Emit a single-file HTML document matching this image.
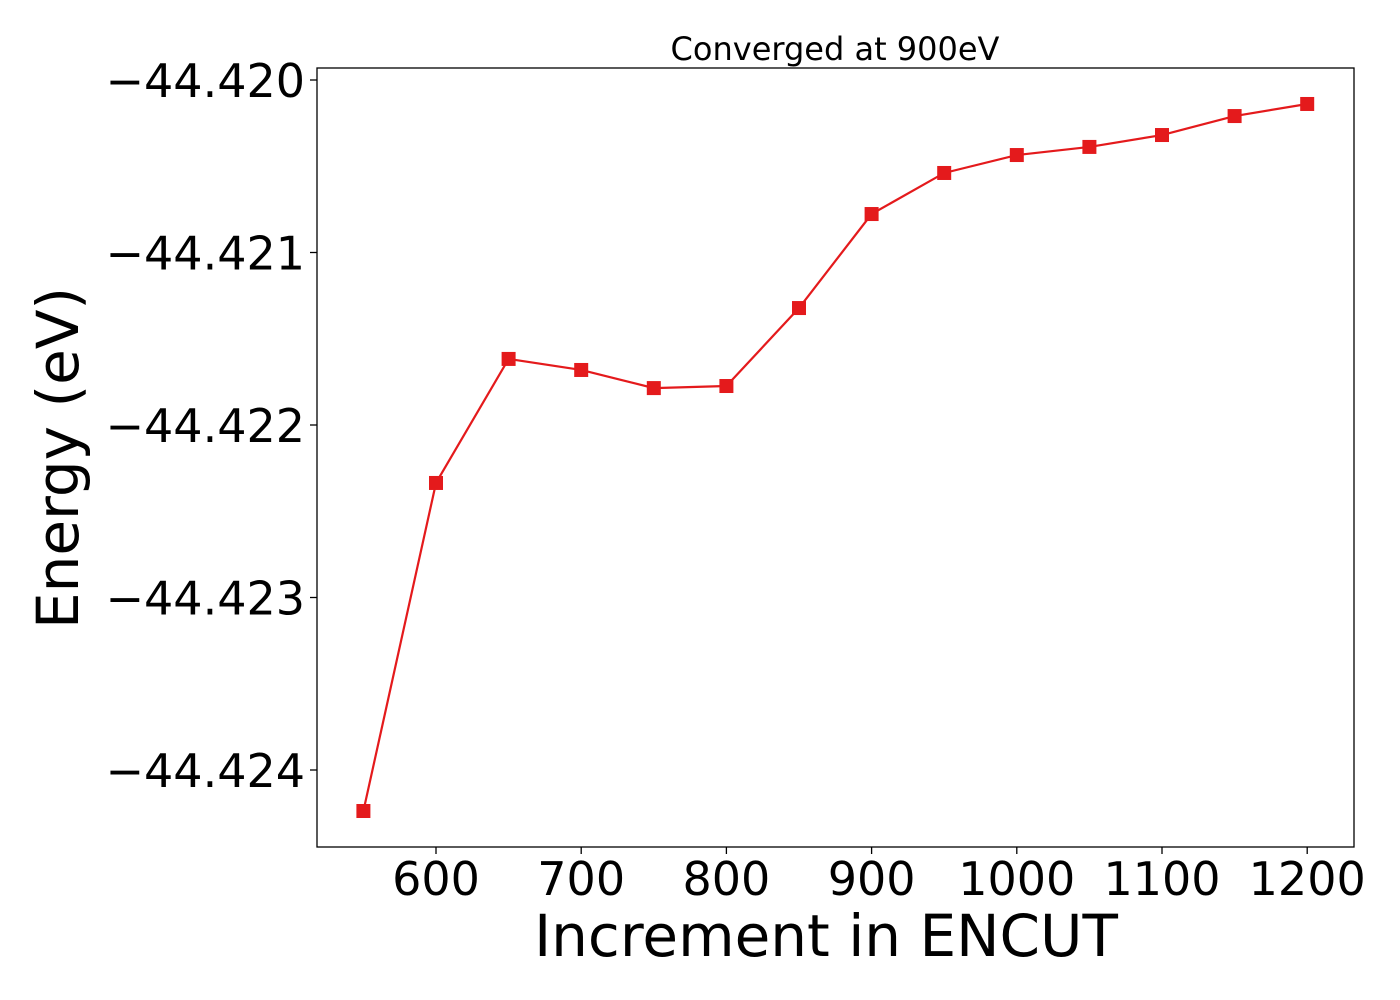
<!DOCTYPE html>
<html><head><meta charset="utf-8"><style>
body{margin:0;background:#fff;}
svg{display:block;font-family:"DejaVu Sans","Liberation Sans",sans-serif;}
</style></head><body>
<svg id="chart" width="1400" height="1000">
<text x="835" y="60" font-size="32" text-anchor="middle">Converged at 900eV</text>
<text x="826" y="956" font-size="58" text-anchor="middle">Increment in ENCUT</text>
<text transform="translate(78,458) rotate(-90)" font-size="58" text-anchor="middle">Energy (eV)</text>
<g id="plot"></g>
<rect x="317" y="68" width="1037" height="779" fill="none" stroke="#000" stroke-width="1.3"/>
</svg>
<script>
const xValues=[550,600,650,700,750,800,850,900,950,1000,1050,1100,1150,1200];
const energies=[-44.4242377,-44.422336,-44.421617,-44.421681,-44.421786,-44.421774,-44.421322,-44.420777,-44.420539,-44.420435,-44.420388,-44.420319,-44.420209,-44.420139];
const xTicks=[600,700,800,900,1000,1100,1200];
const yTicks=[-44.420,-44.421,-44.422,-44.423,-44.424];
const yTickLabels=["\u221244.420","\u221244.421","\u221244.422","\u221244.423","\u221244.424"];
const NS="http://www.w3.org/2000/svg";
const sx=v=>436+(v-600)*1.452;
const sy=v=>80+(-44.42-v)*172500;
const g=document.getElementById('plot');
function mk(t,a){const e=document.createElementNS(NS,t);for(const k in a)e.setAttribute(k,a[k]);g.appendChild(e);return e;}
xTicks.forEach(t=>{
  const l=mk('line',{x1:sx(t),x2:sx(t),y1:847,y2:854,stroke:'#000','stroke-width':1.3});
  
  
  const tx=mk('text',{x:sx(t),y:895,'font-size':46,'text-anchor':'middle'});
  tx.textContent=t;
  
  
});
yTicks.forEach((t,i)=>{
  const l=mk('line',{x1:310,x2:317,y1:sy(t),y2:sy(t),stroke:'#000','stroke-width':1.3});
  
  
  const tx=mk('text',{x:305,y:sy(t)+17,'font-size':46,'text-anchor':'end'});
  tx.textContent=yTickLabels[i];
  
  
});
const line=mk('polyline',{points:xValues.map((x,i)=>sx(x)+','+sy(energies[i])).join(' '),fill:'none',stroke:'#e41a1c','stroke-width':2.2});


xValues.forEach((x,i)=>{
  const r=mk('rect',{x:sx(x)-7,y:sy(energies[i])-7,width:14,height:14,fill:'#e41a1c'});
  
  
});
</script>
</body></html>
